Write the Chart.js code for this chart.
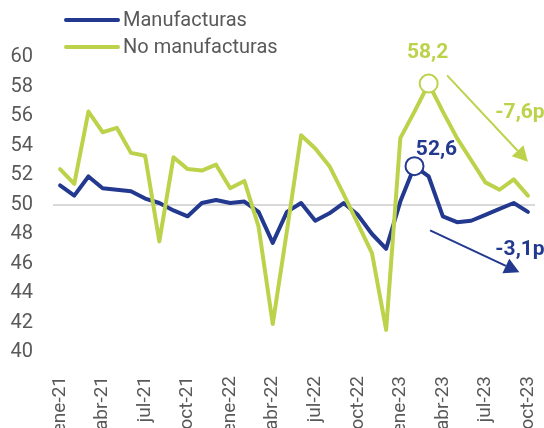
<!DOCTYPE html>
<html>
<head>
<meta charset="utf-8">
<script src="https://cdn.jsdelivr.net/npm/chart.js@4/dist/chart.umd.min.js"></script>
<style>
  body { margin: 0; background: #fff; overflow: hidden; }
</style>
</head>
<body>
<canvas id="chart" width="544" height="428"></canvas>
<script>
const labels = ['ene-21','feb-21','mar-21','abr-21','may-21','jun-21','jul-21','ago-21','sep-21','oct-21','nov-21','dic-21',
                'ene-22','feb-22','mar-22','abr-22','may-22','jun-22','jul-22','ago-22','sep-22','oct-22','nov-22','dic-22',
                'ene-23','feb-23','mar-23','abr-23','may-23','jun-23','jul-23','ago-23','sep-23','oct-23'];

const manufacturas = [51.3,50.6,51.9,51.1,51.0,50.9,50.4,50.1,49.6,49.2,50.1,50.3,
                      50.1,50.2,49.5,47.4,49.5,50.1,48.9,49.4,50.1,49.3,48.0,47.0,
                      50.2,52.6,51.9,49.2,48.8,48.9,49.3,49.7,50.1,49.5];

const noManufacturas = [52.4,51.4,56.3,54.9,55.2,53.5,53.3,47.5,53.2,52.4,52.3,52.7,
                        51.1,51.6,48.5,41.9,48.2,54.7,53.8,52.6,50.7,48.7,46.7,41.5,
                        54.5,56.3,58.2,56.3,54.5,53.0,51.5,51.0,51.7,50.6];

const yTicks = [40, 42, 44, 46, 48, 50, 52, 54, 56, 58, 60];

const BLUE = '#22398f';
const GREEN = '#bdd24b';
const GREY = '#595959';

const peakBlue = manufacturas.indexOf(Math.max(...manufacturas));
const peakGreen = noManufacturas.indexOf(Math.max(...noManufacturas));

function fmt(v) {
    return v.toFixed(1).replace('.', ',');
}

// arrows go from (index, value) to (index, value)
const arrows = [
    { color: GREEN, from: [27.3, 58.75], to: [33.0, 52.9],
      text: fmt(noManufacturas[noManufacturas.length - 1] - noManufacturas[peakGreen]) + 'p', textAt: [30.7, 56.25] },
    { color: BLUE, from: [26.1, 48.25], to: [32.4, 45.4],
      text: fmt(manufacturas[manufacturas.length - 1] - manufacturas[peakBlue]) + 'p', textAt: [30.7, 46.9] }
];

const legendPlugin = {
    id: 'lineLegend',
    afterDraw(chart) {
        const ctx = chart.ctx;
        ctx.save();
        chart.data.datasets.forEach((ds, i) => {
            const y = 20 + i * 27;
            ctx.strokeStyle = ds.borderColor;
            ctx.lineWidth = 4;
            ctx.lineCap = 'round';
            ctx.beginPath();
            ctx.moveTo(66, y);
            ctx.lineTo(118, y);
            ctx.stroke();
            ctx.fillStyle = GREY;
            ctx.font = '20px Roboto';
            ctx.textBaseline = 'middle';
            ctx.textAlign = 'left';
            ctx.fillText(ds.label, 123, y + 1);
        });
        ctx.restore();
    }
};

const notesPlugin = {
    id: 'notes',
    afterDraw(chart) {
        const ctx = chart.ctx;
        const xs = chart.scales.x, ys = chart.scales.y;
        const px = i => xs.getPixelForValue(i);
        const py = v => ys.getPixelForValue(v);
        ctx.save();
        ctx.font = 'bold 21px Roboto';
        ctx.textBaseline = 'middle';

        // peak values
        ctx.textAlign = 'center';
        ctx.fillStyle = GREEN;
        ctx.fillText(fmt(noManufacturas[peakGreen]), px(peakGreen) - 1, py(noManufacturas[peakGreen]) - 31);
        ctx.fillStyle = BLUE;
        ctx.fillText(fmt(manufacturas[peakBlue]), px(peakBlue) + 22, py(manufacturas[peakBlue]) - 16);

        arrows.forEach(a => {
            const x1 = px(a.from[0]), y1 = py(a.from[1]);
            const x2 = px(a.to[0]), y2 = py(a.to[1]);
            const ang = Math.atan2(y2 - y1, x2 - x1);
            const head = 15, half = 8;
            const bx = x2 - head * Math.cos(ang), by = y2 - head * Math.sin(ang);
            ctx.strokeStyle = a.color;
            ctx.fillStyle = a.color;
            ctx.lineWidth = 2;
            ctx.beginPath();
            ctx.moveTo(x1, y1);
            ctx.lineTo(bx, by);
            ctx.stroke();
            ctx.beginPath();
            ctx.moveTo(x2, y2);
            ctx.lineTo(bx + half * Math.sin(ang), by - half * Math.cos(ang));
            ctx.lineTo(bx - half * Math.sin(ang), by + half * Math.cos(ang));
            ctx.closePath();
            ctx.fill();
            ctx.textAlign = 'left';
            ctx.fillText(a.text, px(a.textAt[0]), py(a.textAt[1]));
        });
        ctx.restore();
    }
};

new Chart(document.getElementById('chart').getContext('2d'), {
    type: 'line',
    data: {
        labels: labels,
        datasets: [
            {
                label: 'Manufacturas',
                data: manufacturas,
                borderColor: BLUE,
                borderWidth: 4,
                pointRadius: ctx => ctx.dataIndex === peakBlue ? 9 : 0,
                pointBackgroundColor: '#fff',
                pointBorderColor: BLUE,
                pointBorderWidth: 2,
                order: 2
            },
            {
                label: 'No manufacturas',
                data: noManufacturas,
                borderColor: GREEN,
                borderWidth: 4,
                pointRadius: ctx => ctx.dataIndex === peakGreen ? 9 : 0,
                pointBackgroundColor: '#fff',
                pointBorderColor: GREEN,
                pointBorderWidth: 2,
                order: 1
            }
        ]
    },
    options: {
        responsive: false,
        animation: false,
        events: [],
        elements: { line: { tension: 0, borderJoinStyle: 'round', borderCapStyle: 'round' } },
        layout: { padding: { top: 57, right: 9, left: 0, bottom: 0 } },
        plugins: { legend: { display: false }, tooltip: { enabled: false } },
        scales: {
            x: {
                offset: true,
                grid: { display: false },
                border: { display: false },
                ticks: {
                    autoSkip: false,
                    maxRotation: 90,
                    minRotation: 90,
                    padding: 16,
                    color: GREY,
                    font: { family: 'Roboto', size: 19 },
                    callback: (v, i) => i % 3 === 0 ? labels[i] : ''
                },
                afterFit: s => {
                    s.height = 76;
                    s.paddingLeft = 0;
                    s.paddingRight = 0;
                }
            },
            y: {
                min: 40,
                max: 60,
                afterBuildTicks: s => { s.ticks = yTicks.map(v => ({ value: v })); },
                grid: {
                    drawTicks: false,
                    lineWidth: 2,
                    color: c => c.tick && c.tick.value === 50 ? '#d9d9d9' : 'rgba(0,0,0,0)'
                },
                border: { display: false },
                ticks: {
                    padding: 20,
                    color: GREY,
                    font: { family: 'Roboto', size: 20 }
                },
                afterFit: s => {
                    s.width = 53;
                    s.paddingTop = 0;
                    s.paddingBottom = 0;
                }
            }
        }
    },
    plugins: [legendPlugin, notesPlugin]
});
</script>
</body>
</html>
